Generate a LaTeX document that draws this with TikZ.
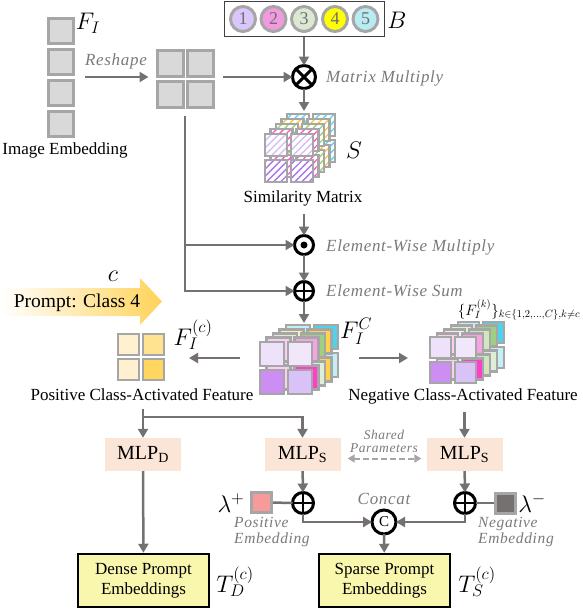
\documentclass[tikz,border=0pt]{standalone}
\usepackage{fix-cm}
\usepackage{fontspec}
\setmainfont{Liberation Serif}
\usetikzlibrary{arrows.meta,patterns.meta,calc}
\definecolor{arrgray}{HTML}{767171}
\definecolor{cellgray}{HTML}{A6A6A6}
\definecolor{labgray}{HTML}{7A7A7A}
\definecolor{numgray}{HTML}{6F6F6F}
\definecolor{lightcell}{HTML}{D9D9D9}
\definecolor{mlpfill}{HTML}{FBE5D6}
\definecolor{boxfill}{HTML}{F9F7AE}
\definecolor{gold}{HTML}{FFD35A}
\definecolor{cA}{HTML}{D9C6FA}
\definecolor{cB}{HTML}{F29AE0}
\definecolor{cC}{HTML}{DDE8D3}
\definecolor{cD}{HTML}{FFFF00}
\definecolor{cE}{HTML}{B8ECF2}
\definecolor{cyA}{HTML}{C5EFF6}
\definecolor{cyB}{HTML}{4CD4EE}
\definecolor{yeA}{HTML}{FFEFB0}
\definecolor{yeB}{HTML}{FFD24A}
\definecolor{grA}{HTML}{E0EDD6}
\definecolor{grB}{HTML}{9FCF80}
\definecolor{pgA}{HTML}{EEF5E8}
\definecolor{pgB}{HTML}{D0E6C0}
\definecolor{pkA}{HTML}{FAD0EF}
\definecolor{pkB}{HTML}{FF3FCB}
\definecolor{pkC}{HTML}{F5A3E2}
\definecolor{puA}{HTML}{EEE2FB}
\definecolor{puB}{HTML}{F2E6FB}
\definecolor{puC}{HTML}{CC8EF2}
\definecolor{puD}{HTML}{D8C2F8}
\definecolor{hcy}{HTML}{5AD8F0}
\definecolor{hye}{HTML}{FFC83D}
\definecolor{hgr}{HTML}{9AD47A}
\definecolor{hpk}{HTML}{FF55CC}
\definecolor{hpuA}{HTML}{D4BFF5}
\definecolor{hpuB}{HTML}{A874EE}
\definecolor{posA}{HTML}{FFF1CF}
\definecolor{posB}{HTML}{FFE391}
\definecolor{posC}{HTML}{FFD75E}
\definecolor{pinkemb}{HTML}{F79A9A}
\definecolor{negemb}{HTML}{767171}
\newcommand{\lbl}{\fontsize{17}{20}\selectfont}
\newcommand{\itl}{\fontsize{17}{20}\selectfont\itshape\addfontfeature{LetterSpace=4}}
\newcommand{\smitl}{\fontsize{13.5}{14}\selectfont\itshape\addfontfeature{LetterSpace=4}}
\newcommand{\embitl}{\fontsize{15.5}{16}\selectfont\itshape\addfontfeature{LetterSpace=4}}
\newcommand{\mth}{\fontsize{24}{28}\selectfont}
\newcommand{\mlpfont}{\fontsize{20}{22}\selectfont}
% 2x2 grid: x y pitch c1 c2 c3 c4 key
\newcommand{\qgrid}[8]{%
  \draw[cellst,#8=#4] (#1+2,#2+2) rectangle ++(#3-4,#3-4);
  \draw[cellst,#8=#5] (#1+#3+2,#2+2) rectangle ++(#3-4,#3-4);
  \draw[cellst,#8=#6] (#1+2,#2+#3+2) rectangle ++(#3-4,#3-4);
  \draw[cellst,#8=#7] (#1+#3+2,#2+#3+2) rectangle ++(#3-4,#3-4);
}
% stack: back x, back y, pitch, dx, dy, layers, key
\newcommand{\stackgrid}[7]{%
  \foreach \ca/\cb/\cc/\cd [count=\i from 0] in {#6}{
    \qgrid{#1-\i*#4}{#2+\i*#5}{#3}{\ca}{\cb}{\cc}{\cd}{#7}
  }}
\begin{document}
\begin{tikzpicture}[x=1pt,y=-1pt,
  arr/.style={draw=arrgray, line width=2.5pt, -{Triangle[length=9pt,width=10pt]}},
  ln/.style={draw=arrgray, line width=2.5pt},
  dasharr/.style={draw=cellgray, line width=2pt, dash pattern=on 6pt off 3pt, {Triangle[length=7pt,width=8pt]}-{Triangle[length=7pt,width=8pt]}},
  cellst/.style={draw=cellgray, line width=2.8pt},
  hatch/.style={preaction={fill=white}, pattern={Lines[angle=45,distance=5pt,line width=1.4pt]}, pattern color=#1},
  sq/.style={draw=cellgray, line width=3pt, fill=#1, minimum size=25pt, inner sep=0pt},
  rsq/.style={draw=cellgray, line width=3pt, fill=#1, minimum size=26pt, inner sep=0pt},
  numc/.style={circle, draw=cellgray, line width=3pt, fill=#1, minimum size=25pt, inner sep=0pt, font=\fontsize{18}{20}\selectfont, text=numgray},
  op/.style={circle, draw=black, line width=3pt, fill=white, inner sep=0pt, outer sep=0pt, minimum size=#1},
  mlp/.style={fill=mlpfill, minimum width=76pt, minimum height=33pt, inner sep=0pt, font=\mlpfont},
  outbox/.style={draw=black, line width=2.5pt, fill=boxfill, minimum width=131pt, minimum height=53pt, align=center, font=\lbl},
  txt/.style={font=\lbl, inner sep=0pt},
  itlab/.style={font=\itl, text=labgray, inner sep=0pt},
  mlab/.style={font=\mth, inner sep=0pt},
  embsq/.style={draw=cellgray, line width=3pt, fill=#1, minimum size=20pt, inner sep=0pt}
]
\useasboundingbox (0,0) rectangle (582,611);

% ---- image embedding column
\node[sq=lightcell] (fi1) at (61,30.5) {};
\node[sq=lightcell] (fi2) at (61,61.5) {};
\node[sq=lightcell] (fi3) at (61,92.5) {};
\node[sq=lightcell] (fi4) at (61,123.5) {};
\node[mlab] (FIl) at (88,23) {$F_I$};
\node[txt] (imgemb) at (65,150) {Image Embedding};

% ---- reshaped grid
\node[rsq=lightcell] (r1) at (170,63.5) {};
\node[rsq=lightcell] (r2) at (200.5,63.5) {};
\node[rsq=lightcell] (r3) at (170,94.5) {};
\node[rsq=lightcell] (r4) at (200.5,94.5) {};
\coordinate (rg) at (185,77);
\node[itlab] (reshape) at (116,61) {Reshape};

% ---- B box
\node[draw=black!75, line width=1pt, minimum width=160pt, minimum height=35pt, inner sep=0pt] (Bbox) at (304,18.5) {};
\node[numc=cA] (b1) at (243,19) {1};
\node[numc=cB] (b2) at (273.5,19) {2};
\node[numc=cC] (b3) at (304,19) {3};
\node[numc=cD] (b4) at (335,19) {4};
\node[numc=cE] (b5) at (365.5,19) {5};
\node[mlab] (Bl) at (397,20) {$B$};

% ---- matrix multiply
\node[op=23pt] (mm) at (304,77) {};
\draw[line width=3pt] (mm.45) -- (mm.225) (mm.135) -- (mm.315);
\node[itlab, anchor=west] (mmtxt) at (326,78) {Matrix Multiply};

% ---- similarity stack
\stackgrid{285}{112}{26}{5.5}{5}{hcy/hcy/hcy/hcy, hye/hye/hye/hye, hgr/hgr/hgr/hgr, hpk/hpk/hpk/hpk, hpuA/hpuA/hpuB/hpuB}{hatch}
\coordinate (Stop) at (304,111);
\node[mlab] (Sl) at (354,150) {$S$};
\node[txt] (simtxt) at (303,198) {Similarity Matrix};

% ---- element-wise ops
\node[op=19pt] (ew) at (304,245) {};
\fill (ew) circle (3.5pt);
\node[itlab, anchor=west] (ewtxt) at (326,247) {Element-Wise Multiply};
\node[op=19pt] (es) at (304,291) {};
\draw[line width=2.5pt] (es.north) -- (es.south) (es.west) -- (es.east);
\node[itlab, anchor=west] (estxt) at (326,291) {Element-Wise Sum};

% ---- prompt arrow
\path[left color=white, right color=gold] (0,288) -- (140,288) -- (140,278) -- (162,301.5) -- (140,325) -- (140,316) -- (0,316) -- cycle;
\node[font=\fontsize{19.5}{22}\selectfont, inner sep=0pt] (prompt) at (77,303) {Prompt: Class 4};
\node[mlab] (cl) at (113,276) {$c$};

% ---- class-activated stack
\stackgrid{284}{323}{28}{6.5}{4.25}{cyA/cyB/cyA/cyA, yeA/yeB/yeA/yeB, grA/grB/grA/grA, pkA/pkC/pkA/pkB, puA/puB/puC/puD}{fill}
\coordinate (Ftop) at (304,323);
\coordinate (Fwest) at (258,358);
\coordinate (Feast) at (340,358);
\node[mlab] (FICl) at (356,331) {$F_I^C$};

% ---- positive grid
\qgrid{116}{332}{25}{posA}{posB}{posA}{posC}{fill}
\coordinate (Pose) at (166,358);
\node[mlab] (FIcl) at (193,335) {$F_I^{(c)}$};
\node[txt] (postxt) at (142,395) {Positive Class-Activated Feature};

% ---- negative stack
\stackgrid{456}{320}{25}{7}{3.75}{cyA/cyB/cyA/cyA, grA/grB/grA/grA, pgA/pgB/pgA/pgB, pkA/pkC/pkA/pkB, puA/puB/puC/puD}{fill}
\coordinate (Nwest) at (428,358);
\node[font=\fontsize{15}{17}\selectfont, inner sep=0pt] (FIkl) at (519,310) {$\{F_I^{(k)}\}_{k\in\{1,2,\ldots,C\},k\neq c}$};
\node[txt] (negtxt) at (463,396) {Negative Class-Activated Feature};

% ---- MLPs
\node[mlp] (mlpd) at (143,454.5) {MLP\textsubscript{D}};
\node[mlp] (mlps1) at (302.5,454.5) {MLP\textsubscript{S}};
\node[mlp] (mlps2) at (464.5,454.5) {MLP\textsubscript{S}};
\node[font=\smitl, text=labgray, align=center, inner sep=0pt] (shared) at (384,441) {Shared\\[-1pt]Parameters};
\coordinate (j) at (143,417);

% ---- embeddings
\node[op=21pt] (op1) at (303,503) {};
\draw[line width=2.5pt] (op1.north) -- (op1.south) (op1.west) -- (op1.east);
\node[op=21pt] (op2) at (465,503) {};
\draw[line width=2.5pt] (op2.north) -- (op2.south) (op2.west) -- (op2.east);
\node[embsq=pinkemb] (possq) at (261.5,502.5) {};
\node[embsq=negemb] (negsq) at (505,503) {};
\node[mlab] (lp) at (231,503) {$\lambda^{+}$};
\node[mlab] (lm) at (532,503) {$\lambda^{-}$};
\node[font=\embitl, text=labgray, align=left, anchor=west, inner sep=0pt] (posembt) at (234,532) {Positive\\Embedding};
\node[font=\embitl, text=labgray, align=left, anchor=west, inner sep=0pt] (negembt) at (478,532) {Negative\\Embedding};
\node[op=24pt, font=\fontsize{15}{16}\selectfont] (cc) at (384,522) {C};
\node[itlab] (cctxt) at (384,499) {Concat};

% ---- outputs
\node[outbox] (dense) at (143.5,580.5) {Dense Prompt\\Embeddings};
\node[outbox] (sparse) at (384.5,580.5) {Sparse Prompt\\Embeddings};
\node[mlab] (TDl) at (235,582) {$T_D^{(c)}$};
\node[mlab] (TSl) at (477,582) {$T_S^{(c)}$};

% ---- connectors
\draw[arr, shorten <=10pt, shorten >=7pt] (fi2.east |- rg) -- (r1.west |- rg);
\draw[arr, shorten <=8pt] (r2.east |- mm) -- (mm);
\draw[arr] (Bbox.south -| mm) -- (mm);
\draw[arr] (mm) -- (Stop);
\draw[arr, shorten <=8pt] (simtxt.south -| ew) -- (ew);
\draw[arr, shorten <=7pt] (r3.south -| rg) |- (es);
\draw[arr] (rg |- ew) -- (ew);
\draw[arr] (ew) -- (es);
\draw[arr] (es) -- (Ftop);
\draw[arr, shorten <=18pt, shorten >=23pt] (Fwest) -- (Pose);
\draw[arr, shorten <=19pt, shorten >=20pt] (Feast) -- (Nwest);
\draw[arr, shorten <=8pt] (postxt.south -| mlpd) -- (mlpd.north);
\draw[arr] (j) -| (mlps1.north);
\draw[arr, shorten <=8pt] (negtxt.south -| mlps2) -- (mlps2.north);
\draw[dasharr, shorten <=7pt, shorten >=5pt] ([yshift=-4pt]mlps1.east) -- ([yshift=-4pt]mlps2.west);
\draw[arr] (mlpd) -- (dense);
\draw[arr] (mlps1) -- (op1);
\draw[arr] (mlps2) -- (op2);
\draw[ln] (possq) -- (op1);
\draw[ln] (negsq) -- (op2);
\draw[arr] (op1) |- (cc);
\draw[arr] (op2) |- (cc);
\draw[arr] (cc) -- (sparse);
\end{tikzpicture}
\end{document}
